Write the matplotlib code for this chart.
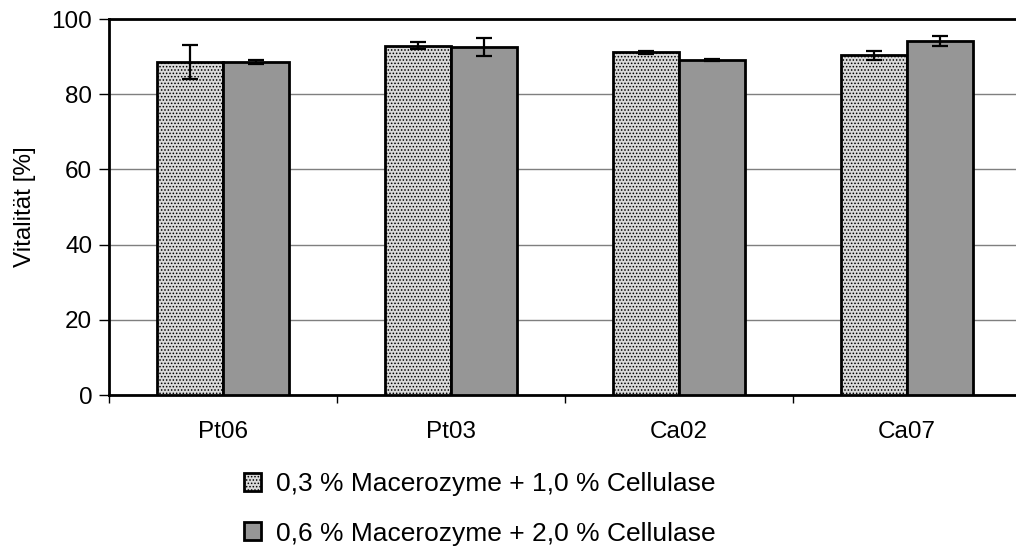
import numpy as np
import matplotlib
matplotlib.use("Agg")
import matplotlib.pyplot as plt

plt.rcParams['font.family'] = ['Liberation Sans', 'DejaVu Sans']
plt.rcParams['hatch.color'] = '#9a9a9a'
plt.rcParams['hatch.linewidth'] = 0.7

categories = ["Pt06", "Pt03", "Ca02", "Ca07"]
series_names = ["0,3 % Macerozyme + 1,0 % Cellulase",
                "0,6 % Macerozyme + 2,0 % Cellulase"]
vals_low = [88.6, 92.9, 91.2, 90.3]
err_low = [4.5, 1.0, 0.4, 1.2]
vals_high = [88.6, 92.6, 89.0, 94.1]
err_high = [0.6, 2.4, 0.3, 1.3]

fs = 17.5

fig = plt.figure(figsize=(10.16, 5.5), dpi=100)
# axes runs past the right edge, as in the reference
ax = fig.add_axes([109/1016, 1 - 395/550, 912/1016, 376/550])

x = np.arange(len(categories))
w = 0.29
b1 = ax.bar(x - w/2, vals_low, w, color='#dadada', hatch='.....',
            edgecolor='black', linewidth=2, zorder=3, label=series_names[0])
b2 = ax.bar(x + w/2, vals_high, w, color='#969696',
            edgecolor='black', linewidth=2, zorder=3, label=series_names[1])
ax.errorbar(x - w/2, vals_low, yerr=err_low, fmt='none', ecolor='black',
            elinewidth=1.6, capsize=5.5, capthick=1.6, zorder=4)
ax.errorbar(x + w/2, vals_high, yerr=err_high, fmt='none', ecolor='black',
            elinewidth=1.6, capsize=5.5, capthick=1.6, zorder=4)

ax.set_xlim(-0.5, 3.5)
ax.set_ylim(0, 100)
ax.set_yticks([0, 20, 40, 60, 80, 100])
ax.yaxis.grid(True, color='#7f7f7f', linewidth=1)
ax.set_axisbelow(True)
ax.set_xticks(x)
ax.set_xticklabels(categories)
ax.set_xticks(np.arange(-0.5, 4, 1), minor=True)
ax.tick_params(axis='x', which='major', length=0, pad=19, labelsize=fs)
ax.tick_params(axis='x', which='minor', length=6, width=1, direction='out')
ax.tick_params(axis='y', length=7, width=1, direction='out', labelsize=fs, pad=5)
for s in ['left', 'bottom', 'top']:
    ax.spines[s].set_linewidth(2)
ax.spines['right'].set_visible(False)
ax.set_ylabel("Vitalität [%]", fontsize=fs)
ax.yaxis.set_label_coords(-73/912, 0.5)

fig.legend(handles=[b1, b2], loc='center left', bbox_to_anchor=(244/1016, 1 - 509/550),
           frameon=False, fontsize=19, handlelength=0.65, handleheight=0.65,
           labelspacing=0.95, handletextpad=0.55, borderpad=0, borderaxespad=0)

fig.savefig("out.png", dpi=100)
